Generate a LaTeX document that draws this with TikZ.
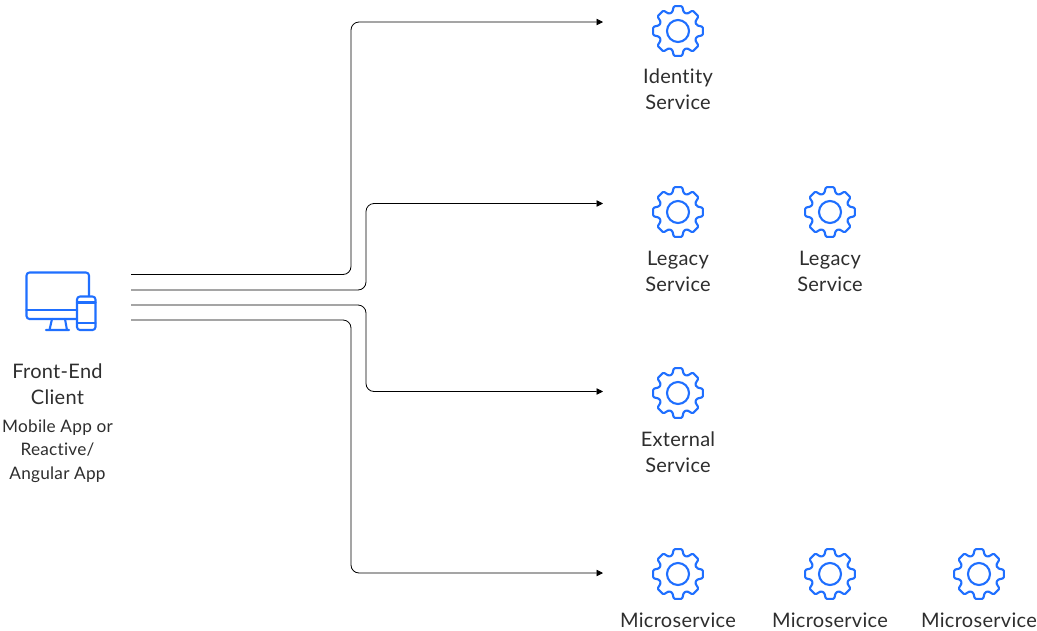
\documentclass[tikz,border=0pt]{standalone}
\usepackage{fontspec}
\setmainfont[LetterSpace=1.5,Ligatures=NoCommon]{Lato}
\usetikzlibrary{arrows.meta}
\definecolor{iconblue}{HTML}{1F6FFF}
\definecolor{txt}{HTML}{2E2E2E}
\tikzset{
  icon/.style={draw=iconblue,line width=2.1pt,line join=round,line cap=round},
  flow/.style={draw=black,line width=0.8pt,rounded corners=8pt},
  flowarrow/.style={flow,-{Triangle[length=6.5pt,width=6.5pt]}},
  lbl/.style={text=txt,font=\fontsize{20}{26}\selectfont,align=center,inner sep=0pt},
  sublbl/.style={text=txt,font=\fontsize{17.2}{23.7}\selectfont,align=center,inner sep=0pt},
  gear/.pic={
    \draw[icon,rounded corners=1.1pt]
      (-17:19.5)
      \foreach \a in {0,45,...,315}{
        -- ({\a-17}:19.5) -- ({\a-9.5}:25.2) -- ({\a+9.5}:25.2) -- ({\a+17}:19.5)
      } -- cycle;
    \draw[icon] (0,0) circle (11pt);
  }
}
\begin{document}
\begin{tikzpicture}[x=1pt,y=-1pt]
\useasboundingbox[fill=white] (0,0) rectangle (1037,630);
% device icon
\draw[icon,rounded corners=3pt] (77,319) -- (26.5,319) -- (26.5,272.5) -- (89,272.5) -- (89,296);
\draw[icon] (26.5,310) -- (77,310);
\draw[icon] (52,319) -- (49.5,330) (65,319) -- (67,330) (46,330) -- (69,330);
\draw[icon,rounded corners=3pt] (77,296.5) rectangle (95.5,330);
\draw[icon] (77,302.5) -- (95.5,302.5) (77,323) -- (95.5,323);
% gears
\pic at (678,31) {gear};
\pic at (678,212) {gear};
\pic at (830,212) {gear};
\pic at (678,393) {gear};
\pic at (678,574) {gear};
\pic at (830,574) {gear};
\pic at (979,574) {gear};
% labels
\node[lbl] (client) at (57.5,384) {Front-End\\Client};
\node[sublbl] (clientsub) at (57.5,451) {Mobile App or\\Reactive/\\Angular App};
\node[lbl] (identity) at (678,89.5) {Identity\\Service};
\node[lbl] (legacya) at (678,271.5) {Legacy\\Service};
\node[lbl] (legacyb) at (830,271.5) {Legacy\\Service};
\node[lbl] (external) at (678,452.5) {External\\Service};
\node[lbl] (ma) at (678,620.5) {Microservice};
\node[lbl] (mb) at (830,620.5) {Microservice};
\node[lbl] (mc) at (979,620.5) {Microservice};
% connectors
\coordinate (s1) at (131,274.5);
\coordinate (s2) at (131,290);
\coordinate (s3) at (131,305);
\coordinate (s4) at (131,320);
\coordinate (e1) at (603,22);
\coordinate (e2) at (603,203.5);
\coordinate (e3) at (603,391.5);
\coordinate (e4) at (603,573);
\draw[flowarrow] (s1) -- (351,274.5) -- (351,22) -- (e1);
\draw[flowarrow] (s2) -- (366,290) -- (366,203.5) -- (e2);
\draw[flowarrow] (s3) -- (366,305) -- (366,391.5) -- (e3);
\draw[flowarrow] (s4) -- (351,320) -- (351,573) -- (e4);
\end{tikzpicture}
\end{document}
